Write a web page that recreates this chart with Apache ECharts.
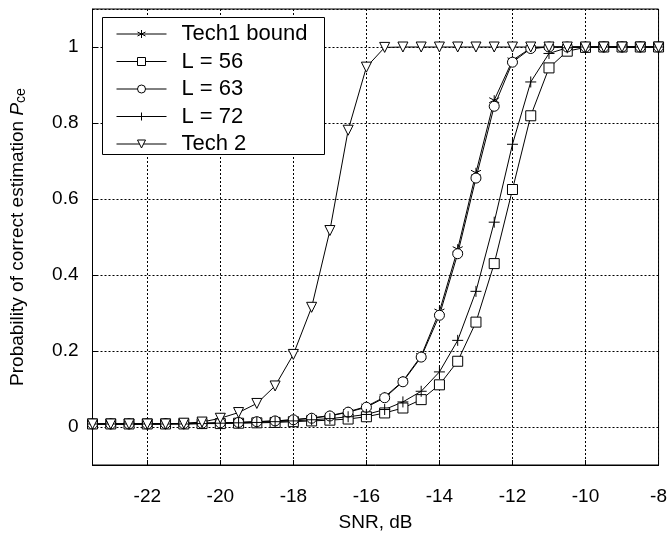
<!DOCTYPE html>
<html>
<head>
<meta charset="utf-8">
<script src="https://cdn.jsdelivr.net/npm/echarts@6/dist/echarts.min.js"></script>
<style>
  html, body { margin: 0; padding: 0; background: #fff; }
  #chart { width: 670px; height: 537px; }
</style>
</head>
<body>
<div id="chart"></div>
<script>
// SNR grid, dB
var snr = [-23.5, -23, -22.5, -22, -21.5, -21, -20.5, -20, -19.5, -19, -18.5, -18,
           -17.5, -17, -16.5, -16, -15.5, -15, -14.5, -14, -13.5, -13, -12.5, -12,
           -11.5, -11, -10.5, -10, -9.5, -9, -8.5, -8];

var tech1Bound = [0.008, 0.008, 0.008, 0.008, 0.009, 0.009, 0.010, 0.011, 0.012, 0.014, 0.016, 0.019,
                  0.024, 0.030, 0.040, 0.054, 0.079, 0.121, 0.187, 0.304, 0.468, 0.669, 0.860, 0.965,
                  0.997, 1, 1, 1, 1, 1, 1, 1];
var l56 = [0.008, 0.008, 0.008, 0.008, 0.008, 0.008, 0.009, 0.009, 0.010, 0.011, 0.012, 0.014,
           0.016, 0.018, 0.021, 0.027, 0.037, 0.050, 0.072, 0.111, 0.173, 0.276, 0.430, 0.625,
           0.819, 0.945, 0.989, 0.999, 1, 1, 1, 1];
var l63 = [0.008, 0.008, 0.008, 0.008, 0.009, 0.009, 0.010, 0.011, 0.012, 0.014, 0.016, 0.019,
           0.023, 0.029, 0.039, 0.052, 0.077, 0.119, 0.184, 0.294, 0.456, 0.655, 0.844, 0.960,
           0.996, 1, 1, 1, 1, 1, 1, 1];
var l72 = [0.008, 0.008, 0.008, 0.008, 0.008, 0.008, 0.009, 0.010, 0.011, 0.012, 0.014, 0.016,
           0.019, 0.022, 0.027, 0.033, 0.046, 0.066, 0.094, 0.145, 0.228, 0.357, 0.539, 0.744,
           0.908, 0.983, 0.998, 1, 1, 1, 1, 1];
var tech2 = [0.008, 0.008, 0.008, 0.008, 0.008, 0.010, 0.013, 0.023, 0.038, 0.062, 0.108, 0.191,
             0.315, 0.517, 0.781, 0.947, 0.999, 1, 1, 1, 1, 1, 1, 1,
             1, 1, 1, 1, 1, 1, 1, 1];

var FONT = 'Liberation Sans, Arial, sans-serif';
var STAR = 'path://M5,0L5,10M0.67,2.5L9.33,7.5M0.67,7.5L9.33,2.5';
var PLUS = 'path://M0,5L10,5M5,0L5,10';

function pairs(ys) {
    var out = [];
    for (var i = 0; i < snr.length; i++) {
        out.push([snr[i], ys[i]]);
    }
    return out;
}

function mkSeries(name, ys, symbol, size, rotate) {
    return {
        name: name,
        type: 'line',
        data: pairs(ys),
        symbol: symbol,
        symbolSize: size,
        symbolRotate: rotate || 0,
        showAllSymbol: true,
        lineStyle: { color: '#000', width: 1 },
        itemStyle: { color: '#fff', borderColor: '#000', borderWidth: 1 },
        emphasis: { disabled: true }
    };
}

var myChart = echarts.init(document.getElementById('chart'));
myChart.setOption({
    animation: false,
    backgroundColor: '#fff',
    grid: {
        left: 88, right: 9, top: 9, bottom: 71,
        show: true, borderColor: '#000', borderWidth: 1
    },
    // legend frame
    graphic: [{
        type: 'rect', z: 3,
        shape: { x: 102.5, y: 17.5, width: 222, height: 137 },
        style: { fill: '#fff', stroke: '#000', lineWidth: 1 }
    }],
    legend: {
        orient: 'vertical',
        left: 116, top: 23,
        z: 5,
        padding: 0,
        itemWidth: 50, itemHeight: 10, itemGap: 5.5,
        lineStyle: { width: 1, color: '#000' },
        itemStyle: { borderWidth: 1 },
        textStyle: { fontFamily: FONT, fontSize: 22, color: '#000', padding: [0, 0, 0, 10] },
        data: ['Tech1 bound', 'L = 56', 'L = 63', 'L = 72', 'Tech 2']
    },
    xAxis: {
        type: 'value',
        min: -23.5, max: -8,
        minInterval: 2, maxInterval: 2,
        name: 'SNR, dB',
        nameLocation: 'middle', nameGap: 48,
        nameTextStyle: { fontFamily: FONT, fontSize: 19, color: '#000' },
        axisLine: { show: true, onZero: false, lineStyle: { color: '#000', width: 1 } },
        axisTick: { show: true, inside: true, length: 5, lineStyle: { color: '#000' } },
        axisLabel: { fontFamily: FONT, fontSize: 19, color: '#000', margin: 22, showMinLabel: false },
        splitLine: { show: true, lineStyle: { color: '#000', type: [2, 2], width: 1 } }
    },
    yAxis: {
        type: 'value',
        min: -0.1, max: 1.1,
        minInterval: 0.2, maxInterval: 0.2,
        name: 'Probability of correct estimation {p|P}{s|ce}',
        nameLocation: 'middle', nameGap: 64,
        nameTextStyle: {
            fontFamily: FONT, fontSize: 19, color: '#000',
            rich: {
                p: { fontFamily: FONT, fontSize: 19, fontStyle: 'italic', color: '#000' },
                s: { fontFamily: FONT, fontSize: 14, color: '#000', verticalAlign: 'bottom', padding: [8, 0, 0, 0] }
            }
        },
        axisLine: { show: true, onZero: false, lineStyle: { color: '#000', width: 1 } },
        axisTick: { show: true, inside: true, length: 5, lineStyle: { color: '#000' } },
        axisLabel: { fontFamily: FONT, fontSize: 19, color: '#000', margin: 14, showMinLabel: false, showMaxLabel: false },
        splitLine: { show: true, lineStyle: { color: '#000', type: [2, 2], width: 1 } }
    },
    series: [
        mkSeries('Tech1 bound', tech1Bound, STAR, 10),
        mkSeries('L = 56', l56, 'rect', 10),
        mkSeries('L = 63', l63, 'circle', 10),
        mkSeries('L = 72', l72, PLUS, 11),
        mkSeries('Tech 2', tech2, 'triangle', 10, 180)
    ]
});
</script>
</body>
</html>
